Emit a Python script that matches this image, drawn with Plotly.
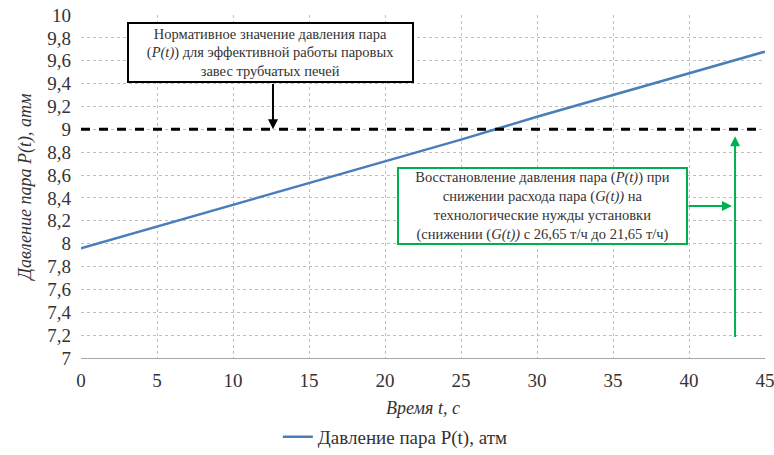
import plotly.graph_objects as go

# Steam pressure recovery over time
t_values = [0, 5, 10, 15, 20, 25, 30, 35, 40, 45]
pressure = [7.96, 8.15, 8.34, 8.53, 8.72, 8.91, 9.11, 9.30, 9.49, 9.68]

# Normative pressure level
norm_t = [0, 45]
norm_p = [9.0, 9.0]

y_ticks = [7, 7.2, 7.4, 7.6, 7.8, 8, 8.2, 8.4, 8.6, 8.8, 9, 9.2, 9.4, 9.6, 9.8, 10]
y_tick_text = ["7", "7,2", "7,4", "7,6", "7,8", "8", "8,2", "8,4", "8,6", "8,8",
               "9", "9,2", "9,4", "9,6", "9,8", "10"]
x_ticks = [0, 5, 10, 15, 20, 25, 30, 35, 40, 45]

FONT = "Liberation Serif"
TXT = "#333333"
GREEN = "#00B050"

fig = go.Figure()
fig.add_trace(go.Scatter(
    x=t_values, y=pressure, mode="lines",
    name="Давление пара P(t), атм",
    line=dict(color="#4A7EBB", width=2.5),
))
fig.add_trace(go.Scatter(
    x=norm_t, y=norm_p, mode="lines", showlegend=False,
    line=dict(color="black", width=3, dash="dash"),
))

annotations = [
    # Normative value note
    dict(x=12.47, y=9.672, xref="x", yref="y", showarrow=False,
         text="Нормативное значение давления пара<br>(<i>P(t)</i>) для эффективной работы паровых<br>завес трубчатых печей",
         font=dict(family=FONT, size=14.5, color=TXT),
         bordercolor="black", borderwidth=2, bgcolor="white",
         width=281, height=55, align="center"),
    dict(x=12.63, y=9.0, ax=12.63, ay=9.41, xref="x", yref="y", axref="x", ayref="y",
         showarrow=True, arrowhead=2, arrowsize=1, arrowwidth=2, arrowcolor="black", text=""),
    # Recovery note
    dict(x=30.36, y=8.33, xref="x", yref="y", showarrow=False,
         text="Восстановление давления пара (<i>P(t)</i>) при<br>снижении расхода пара (<i>G(t))</i> на<br>технологические нужды установки<br>(снижении (<i>G(t))</i> с 26,65 т/ч до 21,65 т/ч)",
         font=dict(family=FONT, size=14.5, color=TXT),
         bordercolor=GREEN, borderwidth=2, bgcolor="white",
         width=285, height=72, align="center"),
    dict(x=42.83, y=8.33, ax=39.87, ay=8.33, xref="x", yref="y", axref="x", ayref="y",
         showarrow=True, arrowhead=2, arrowsize=1, arrowwidth=2, arrowcolor=GREEN, text=""),
    dict(x=43.03, y=8.94, ax=43.03, ay=7.17, xref="x", yref="y", axref="x", ayref="y",
         showarrow=True, arrowhead=2, arrowsize=1, arrowwidth=2, arrowcolor=GREEN, text=""),
]

fig.update_layout(
    width=774, height=455,
    margin=dict(l=81, r=9, t=15, b=97, autoexpand=False),
    paper_bgcolor="white", plot_bgcolor="white",
    font=dict(family=FONT, size=18, color=TXT),
    annotations=annotations,
    showlegend=True,
    legend=dict(orientation="h", xref="container", yref="container", x=0.359, y=0.04,
                xanchor="left", yanchor="middle",
                font=dict(family=FONT, size=19, color=TXT), bgcolor="rgba(0,0,0,0)"),
)
fig.update_xaxes(
    range=[0, 45], tickvals=x_ticks, showgrid=True, gridcolor="#BFBFBF", griddash="dot",
    gridwidth=1, zeroline=False, showline=True, linecolor="#A6A6A6", linewidth=1,
    ticks="", automargin=False, ticklabelstandoff=5, ticklabeloverflow="allow",
    tickfont=dict(family=FONT, size=19, color=TXT),
    title=dict(text="<i>Время t, с</i>", font=dict(family=FONT, size=18, color=TXT), standoff=12),
)
fig.update_yaxes(
    range=[7, 10], tickvals=y_ticks, ticktext=y_tick_text, showgrid=True, gridcolor="#BFBFBF",
    griddash="dot", gridwidth=1, zeroline=False, showline=False, ticks="", automargin=False,
    ticklabelstandoff=9, ticklabeloverflow="allow", tickfont=dict(family=FONT, size=19, color=TXT),
    title=dict(text="<i>Давление пара P(t), атм</i>", font=dict(family=FONT, size=18, color=TXT), standoff=10),
)

fig.write_html("out.html")
